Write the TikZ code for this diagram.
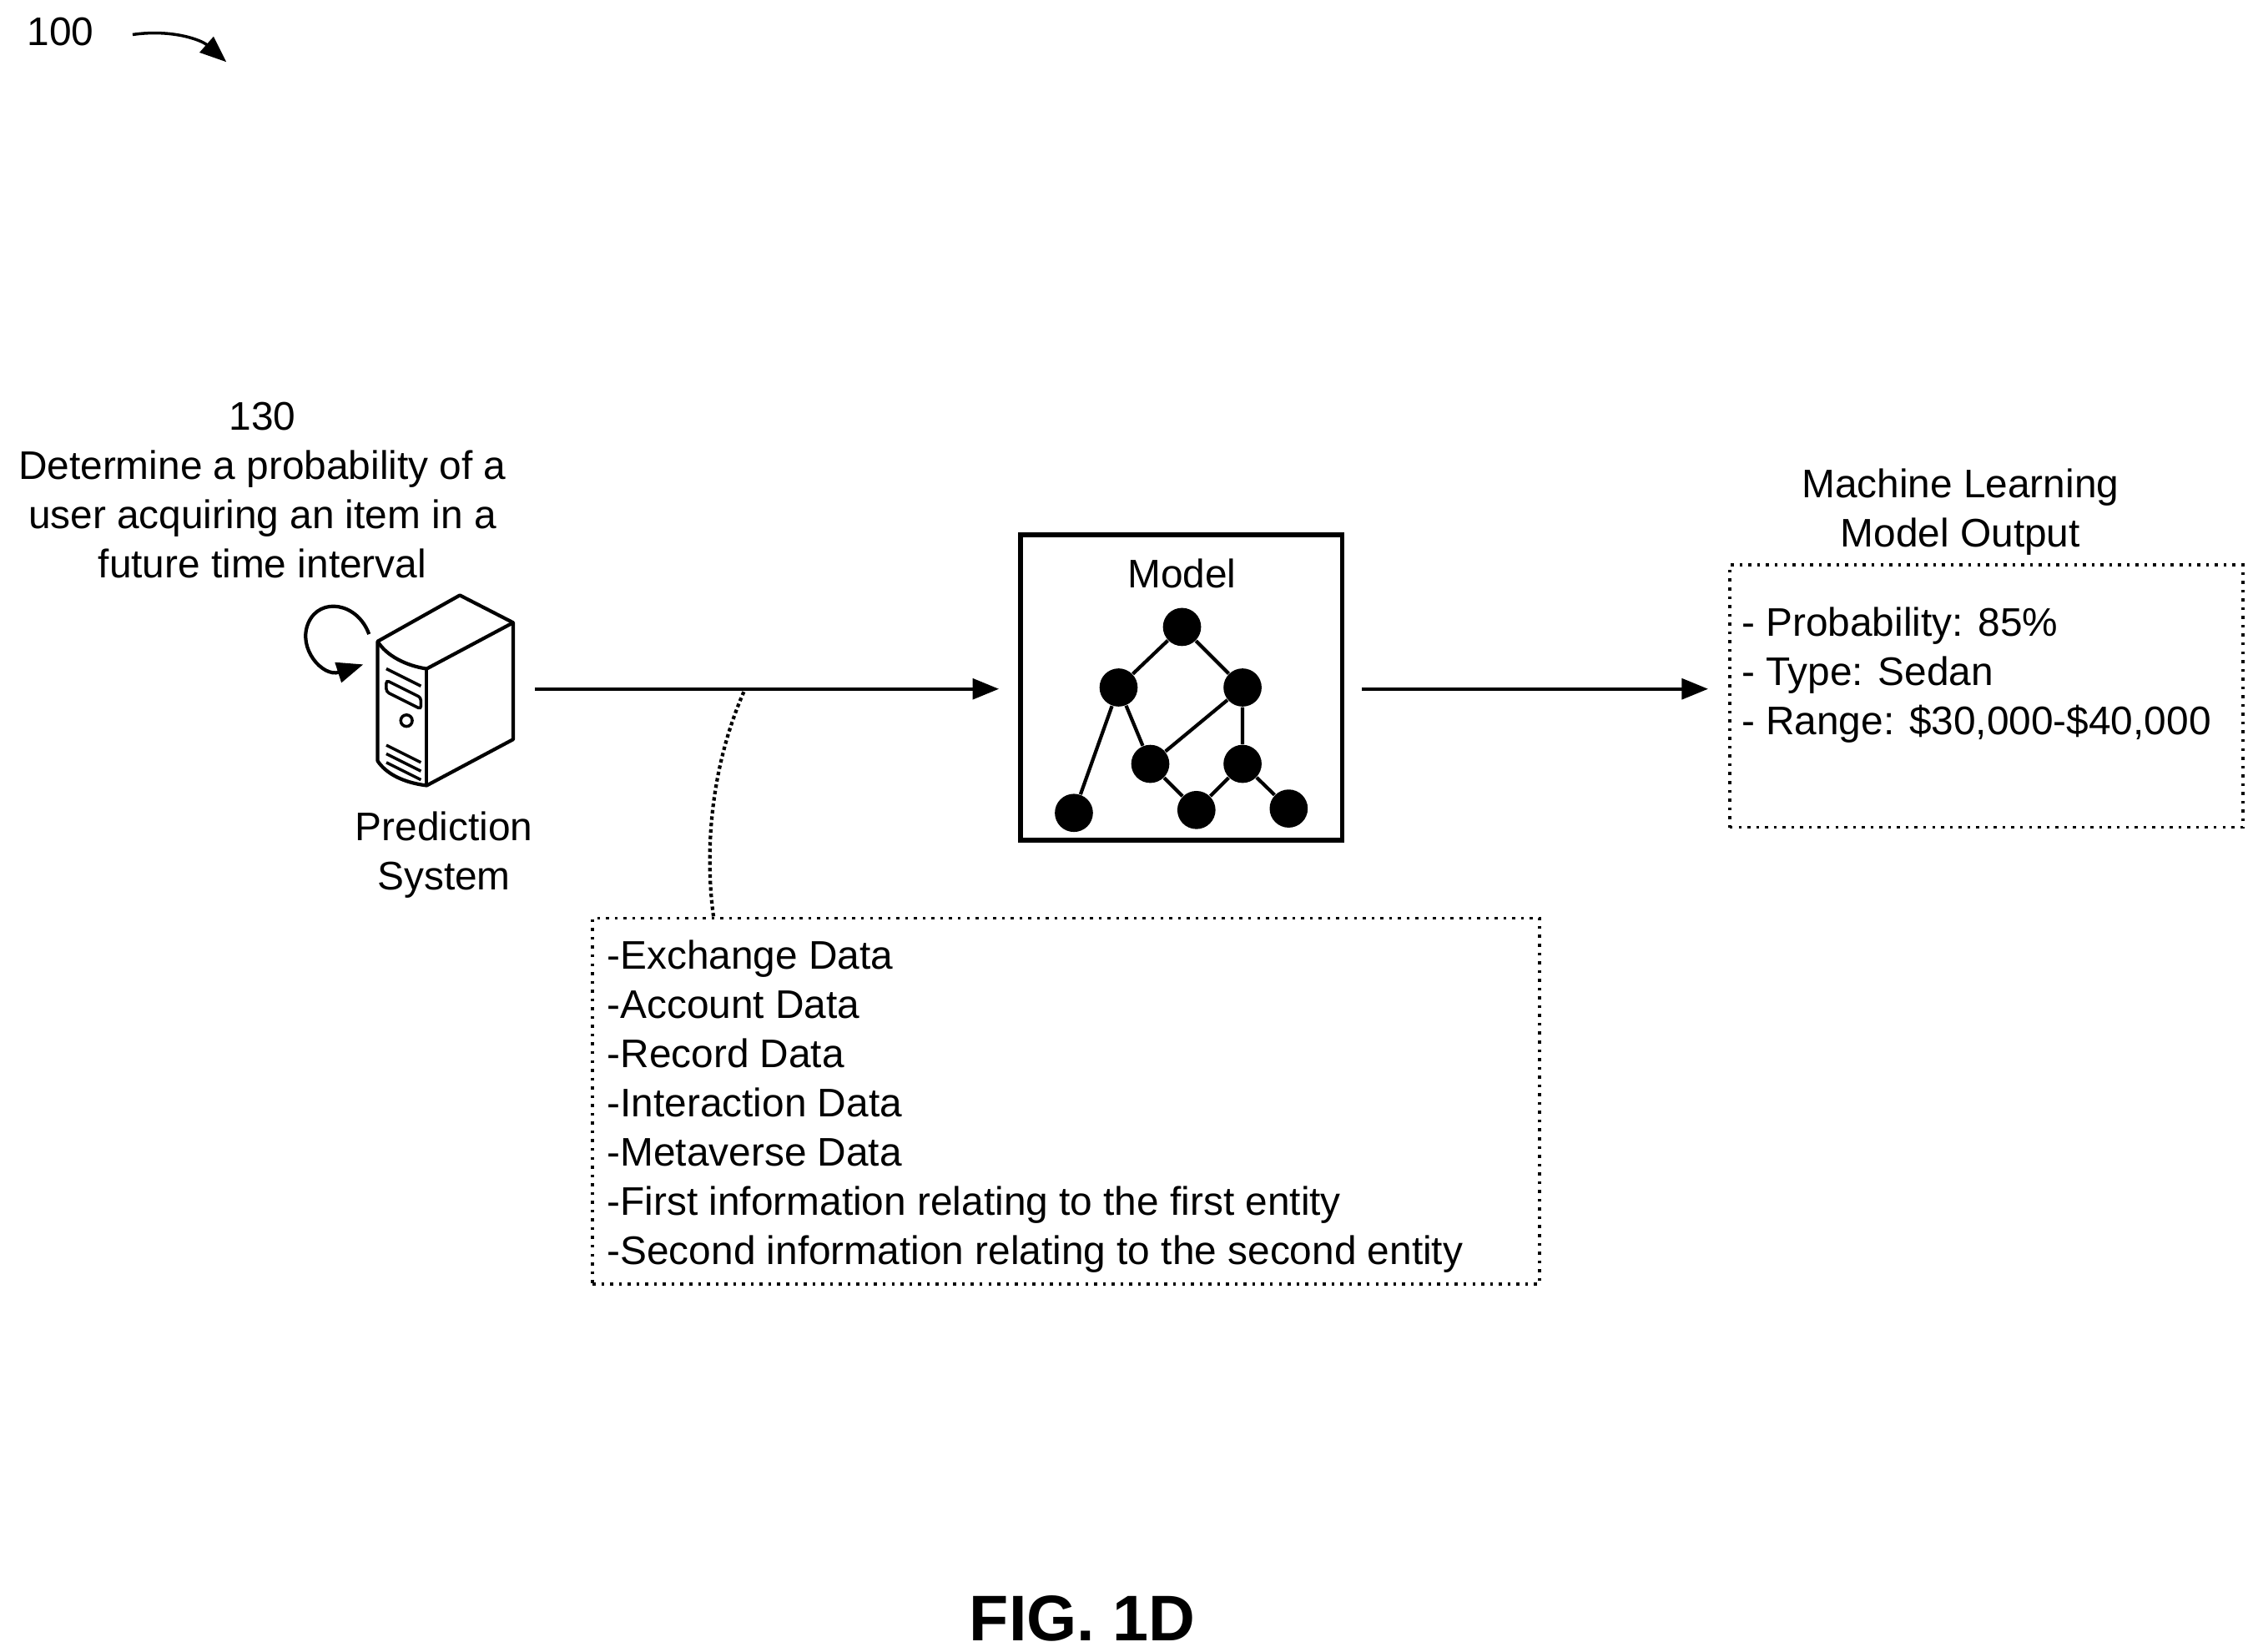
\documentclass[tikz,border=0pt]{standalone}
\usepackage{fontspec}
\setmainfont{Liberation Sans}
\usetikzlibrary{arrows.meta,positioning,calc}
\begin{document}
\begin{tikzpicture}[
  x=0.01727cm, y=-0.01727cm,
  font=\fontsize{13.6}{16.8}\selectfont,
  arr/.style={-{Triangle[length=9pt,width=7pt]}, line width=1.2pt},
  dotbox/.style={draw, dotted, line width=1pt, inner sep=0pt},
  dot/.style={circle, fill, inner sep=0pt, minimum size=13pt},
  lab/.style={align=center}
]
\useasboundingbox (0,0) rectangle (1563,1146);

% Reference label
\node (ref) at (42,22) {100};
\coordinate (refend) at (157,43);
\draw[arr, line width=1pt] (92,24) .. controls (120,20) and (140,28) .. (refend);

% Prediction system (server)
\draw[line width=1.2pt, line join=round, fill=white]
  (262,445) -- (319,413) -- (356,432) -- (356,513) -- (296,545)
  .. controls (280,543) and (268,537) .. (262,528) -- cycle;
\draw[line width=1.2pt] (262,445) .. controls (268,455) and (282,462) .. (296,464) -- (356,432);
\draw[line width=1.2pt] (296,464) -- (296,545);
\draw[line width=1pt] (268,464) -- (292,476);
\draw[line width=1pt, rounded corners=1pt] (268,472) -- (292,484) -- (292,492) -- (268,480) -- cycle;
\draw[line width=1pt] (282,500) circle (4);
\draw[line width=1pt] (268,517) -- (292,529) (268,523) -- (292,535) (268,529) -- (292,541);
\node (server) at (309,479) [minimum width=95pt, minimum height=135pt] {};
\draw[arr] (256,440) .. controls (248,418) and (222,414) .. (214,432) .. controls (206,450) and (224,470) .. (252,461);

\node[lab] (task) at (182,340) {130\\Determine a probability of a\\user acquiring an item in a\\future time interval};
\node[lab] (sysname) at (308,593) {Prediction\\System};

% Model box
\node[draw, line width=1.5pt, minimum width=223*0.01727cm, minimum height=212*0.01727cm] (model) at (819.5,477) {};
\node (mname) at (820,398) {Model};
\node[dot] (n1) at (820,435) {};
\node[dot] (n2) at (776,477) {};
\node[dot] (n3) at (862,477) {};
\node[dot] (n4) at (798,530) {};
\node[dot] (n5) at (862,530) {};
\node[dot] (n6) at (745,564) {};
\node[dot] (n7) at (830,562) {};
\node[dot] (n8) at (894,561) {};
\draw[line width=1.2pt] (n1) -- (n2) (n1) -- (n3) (n2) -- (n6) (n2) -- (n4)
  (n3) -- (n4) (n3) -- (n5) (n4) -- (n7) (n5) -- (n7) (n5) -- (n8);

% Output
\node[lab] (outtitle) at (1360,355) {Machine Learning\\Model Output};
\node[dotbox, minimum width=356*0.01727cm, minimum height=182*0.01727cm] (outbox) at (1378,483) {};
\node[align=left, anchor=north west] (outtext) at (1201,414) {- Probability: 85\%\\- Type: Sedan\\- Range: \$30,000-\$40,000};

% Input data
\node[dotbox, minimum width=657*0.01727cm, minimum height=254*0.01727cm] (databox) at (739.5,764) {};
\node[align=left, anchor=north west] (datatext) at (414,645) {-Exchange Data\\-Account Data\\-Record Data\\-Interaction Data\\-Metaverse Data\\-First information relating to the first entity\\-Second information relating to the second entity};

% Connections
\coordinate (a1) at (371,478);
\coordinate (a2) at (693,478);
\coordinate (b1) at (945,478);
\coordinate (b2) at (1185,478);
\draw[arr] (a1) -- (a2);
\draw[arr] (b1) -- (b2);
\coordinate (tap) at (516,480);
\draw[densely dotted, line width=1.2pt] (tap) .. controls (490,540) and (490,600) .. (databox.north -| 495,0);

\node[font=\bfseries\fontsize{22}{26}\selectfont] (fig) at (751,1123) {FIG. 1D};
\end{tikzpicture}
\end{document}
